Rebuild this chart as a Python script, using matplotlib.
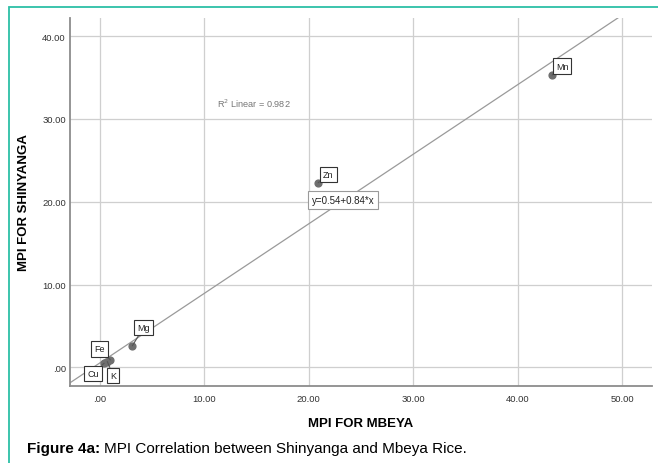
import matplotlib.pyplot as plt
from matplotlib.patches import Rectangle
from matplotlib.ticker import FuncFormatter, MultipleLocator

plt.rcParams['font.family'] = ['Liberation Sans', 'DejaVu Sans']

# MPI values per element
elements = ["Mn", "Zn", "Mg", "Fe", "Cu", "K"]
mpi_mbeya = [43.3, 20.9, 3.1, 1.0, 0.4, 0.7]
mpi_shinyanga = [35.3, 22.3, 2.6, 0.9, 0.5, 0.7]

# linear fit reported on the chart
fit_intercept = 0.54
fit_slope = 0.84
r_squared = 0.982

# where each point label sits, in pixels from its point
label_offsets = {
    "Mn": (10, 9),
    "Zn": (10, 8),
    "Mg": (11, 18),
    "Fe": (-11, 11),
    "Cu": (-11, -10),
    "K": (6, -14),
}


def fmt_tick(v, pos):
    s = f"{v:.2f}"
    if s.startswith("0."):
        s = s[1:]
    return s


fig = plt.figure(figsize=(6.58, 4.64), dpi=100)
ax = fig.add_axes([70 / 658, 1 - 386.7 / 464, 582 / 658, 367.7 / 464])

xmin, xmax = -2.87, 52.87
ymin, ymax = -2.22, 42.2
ax.set_xlim(xmin, xmax)
ax.set_ylim(ymin, ymax)

ax.xaxis.set_major_locator(MultipleLocator(10))
ax.yaxis.set_major_locator(MultipleLocator(10))
ax.xaxis.set_major_formatter(FuncFormatter(fmt_tick))
ax.yaxis.set_major_formatter(FuncFormatter(fmt_tick))
ax.tick_params(length=0, labelsize=6.8, colors='#333333')
ax.tick_params(axis='x', pad=6)
ax.tick_params(axis='y', pad=3)

ax.grid(True, color='#cfcfcf', lw=0.9)
ax.set_axisbelow(True)
for side in ['top', 'right']:
    ax.spines[side].set_visible(False)
for side in ['left', 'bottom']:
    ax.spines[side].set_color('#8c8c8c')
    ax.spines[side].set_linewidth(1.3)

# fit line across the plot
xs = [xmin, xmax]
ys = [fit_intercept + fit_slope * x for x in xs]
ax.plot(xs, ys, color='#9a9a9a', lw=0.9, zorder=2)

ax.scatter(mpi_mbeya, mpi_shinyanga, s=24, color='#6f6f6f', zorder=3)

for name, x, y in zip(elements, mpi_mbeya, mpi_shinyanga):
    ax.annotate(name, (x, y), xytext=label_offsets[name], textcoords='offset pixels',
                ha='center', va='center', fontsize=6.5, color='#222222',
                bbox=dict(boxstyle='square,pad=0.35', fc='white', ec='#333333', lw=0.8),
                arrowprops=dict(arrowstyle='-', color='#555555', lw=0.8,
                                shrinkA=0, shrinkB=0),
                zorder=4)

ax.text(23.3, 20.2, f"y={fit_intercept:.2f}+{fit_slope:.2f}*x", ha='center', va='center',
        fontsize=7, color='#222222', zorder=4,
        bbox=dict(boxstyle='square,pad=0.4', fc='white', ec='#9a9a9a', lw=0.8))
ax.text(14.7, 32.0, f"R$^2$ Linear = {r_squared:.3f}", ha='center', va='center',
        fontsize=6.6, color='#777777')

ax.set_xlabel("MPI FOR MBEYA", fontsize=9.5, fontweight='bold', labelpad=10)
ax.set_ylabel("MPI FOR SHINYANGA", fontsize=9.5, fontweight='bold', labelpad=9)

# caption under the chart
cap_y = 1 - 449 / 464
t1 = fig.text(27 / 658, cap_y, "Figure 4a:", fontsize=11, fontweight='bold', va='center')
fig.canvas.draw()
bb = t1.get_window_extent()
fig.text((bb.x1 + 4) / 658, cap_y, "MPI Correlation between Shinyanga and Mbeya Rice.",
         fontsize=11, va='center')

# teal frame round the figure
fig.patches.append(Rectangle((8.5 / 658, -0.05), 1.1, (464 - 8) / 464 + 0.05,
                             transform=fig.transFigure, fill=False,
                             ec='#2cbfa6', lw=1.3))

fig.savefig("out.png", dpi=100)
